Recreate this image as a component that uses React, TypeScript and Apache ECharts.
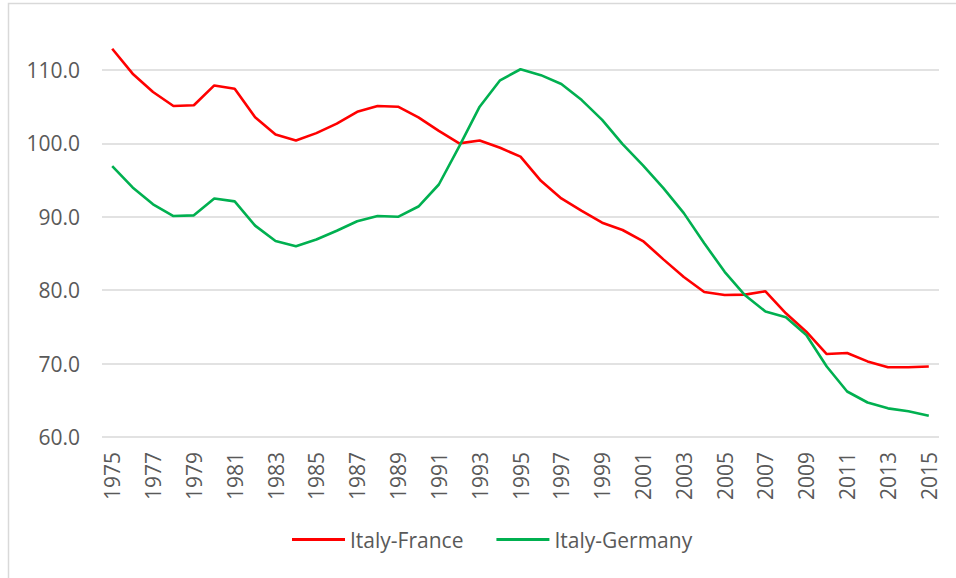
import React, { useEffect, useRef } from "react";
import * as echarts from "echarts";

const years: string[] = [];
for (let y = 1975; y <= 2015; y++) years.push(String(y));

const italyFrance = [
  112.9, 109.5, 107.0, 105.1, 105.2, 107.9, 107.45, 103.55, 101.2, 100.4,
  101.4, 102.7, 104.3, 105.1, 105.0, 103.55, 101.7, 100.0, 100.4, 99.4,
  98.2, 94.9, 92.5, 90.8, 89.2, 88.2, 86.7, 84.2, 81.8, 79.75,
  79.35, 79.4, 79.85, 76.85, 74.35, 71.3, 71.45, 70.3, 69.5, 69.5,
  69.6,
];

const italyGermany = [
  96.9, 94.0, 91.7, 90.1, 90.2, 92.5, 92.1, 88.8, 86.7, 86.0,
  86.9, 88.1, 89.4, 90.1, 90.0, 91.4, 94.4, 99.6, 105.0, 108.6,
  110.1, 109.3, 108.1, 105.9, 103.2, 99.9, 97.0, 93.9, 90.5, 86.4,
  82.5, 79.3, 77.1, 76.3, 73.9, 69.6, 66.2, 64.7, 63.9, 63.5,
  62.9,
];

const FONT = "'Open Sans', 'Liberation Sans', sans-serif";
const TXT = "#595959";

export default function App() {
  const ref = useRef<HTMLDivElement>(null);
  useEffect(() => {
    if (!ref.current) return;
    const chart = echarts.init(ref.current, null, { renderer: "svg" });
    chart.setOption({
      animation: false,
      backgroundColor: "#ffffff",
      textStyle: { fontFamily: FONT },
      graphic: [
        {
          type: "rect",
          shape: { x: 8.5, y: 3.5, width: 1000, height: 700 },
          style: { fill: "none", stroke: "#d9d9d9", lineWidth: 1.5 },
          silent: true,
        },
      ],
      grid: {
        left: 102,
        right: 17,
        top: 70,
        bottom: 141,
        outerBoundsMode: "none",
      },
      legend: {
        left: 292,
        top: 529,
        padding: 0,
        icon: "rect",
        itemWidth: 53,
        itemHeight: 3,
        itemGap: 33,
        textStyle: { fontFamily: FONT, fontSize: 21, color: TXT },
        data: ["Italy-France", "Italy-Germany"],
      },
      xAxis: {
        type: "category",
        data: years,
        boundaryGap: true,
        axisLine: { show: false },
        axisTick: { show: false },
        axisLabel: {
          interval: 1,
          rotate: 90,
          margin: 15,
          fontFamily: FONT,
          fontSize: 21,
          color: TXT,
        },
      },
      yAxis: {
        type: "value",
        min: 60,
        max: 110,
        interval: 10,
        axisLine: { show: false },
        axisTick: { show: false },
        axisLabel: {
          margin: 22,
          fontFamily: FONT,
          fontSize: 21,
          color: TXT,
          formatter: (v: number) => v.toFixed(1),
        },
        splitLine: { lineStyle: { color: "#d9d9d9", width: 1.5 } },
      },
      series: [
        {
          name: "Italy-France",
          type: "line",
          data: italyFrance,
          symbol: "none",
          clip: false,
          lineStyle: { color: "#ff0000", width: 2.6 },
          itemStyle: { color: "#ff0000" },
        },
        {
          name: "Italy-Germany",
          type: "line",
          data: italyGermany,
          symbol: "none",
          clip: false,
          lineStyle: { color: "#00b050", width: 2.6 },
          itemStyle: { color: "#00b050" },
        },
      ],
    });
    return () => chart.dispose();
  }, []);
  return (
    <div
      ref={ref}
      style={{ position: "fixed", left: 0, top: 0, width: 956, height: 578 }}
    />
  );
}
